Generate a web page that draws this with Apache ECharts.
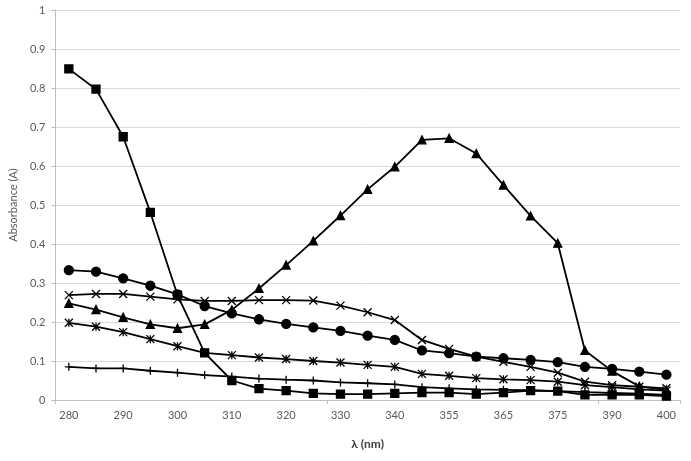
<!DOCTYPE html>
<html>
<head>
<meta charset="utf-8">
<title>Absorbance spectra</title>
<script src="https://cdn.jsdelivr.net/npm/echarts@6/dist/echarts.min.js"></script>
<style>
    html, body { margin: 0; padding: 0; background: #ffffff; }
    #chart { width: 691px; height: 461px; }
</style>
</head>
<body>
<div id="chart"></div>
<script>
// Wavelength categories (nm)
var wavelengths = ['280', '285', '290', '295', '300', '305', '310', '315', '320', '325', '330', '335', '340',
    '345', '355', '360', '365', '370', '375', '380', '390', '395', '400'];

// Absorbance values, one array per curve
var squares = [0.849, 0.797, 0.675, 0.481, 0.269, 0.121, 0.050, 0.029, 0.024, 0.017, 0.015, 0.015, 0.017,
    0.019, 0.019, 0.015, 0.019, 0.024, 0.023, 0.013, 0.013, 0.013, 0.010];
var triangles = [0.248, 0.232, 0.212, 0.194, 0.184, 0.194, 0.231, 0.286, 0.346, 0.408, 0.473, 0.540, 0.598,
    0.667, 0.671, 0.632, 0.551, 0.472, 0.402, 0.127, 0.074, 0.035, 0.026];
var circles = [0.333, 0.329, 0.312, 0.293, 0.271, 0.241, 0.222, 0.207, 0.195, 0.186, 0.177, 0.165, 0.154,
    0.127, 0.120, 0.111, 0.107, 0.103, 0.097, 0.085, 0.080, 0.073, 0.065];
var crosses = [0.269, 0.272, 0.272, 0.265, 0.258, 0.254, 0.254, 0.256, 0.256, 0.255, 0.242, 0.225, 0.205,
    0.154, 0.131, 0.111, 0.098, 0.085, 0.070, 0.047, 0.038, 0.034, 0.030];
var stars = [0.198, 0.188, 0.174, 0.156, 0.138, 0.121, 0.115, 0.109, 0.105, 0.100, 0.096, 0.090, 0.085,
    0.067, 0.062, 0.056, 0.053, 0.051, 0.047, 0.038, 0.033, 0.027, 0.024];
var pluses = [0.085, 0.081, 0.081, 0.075, 0.070, 0.064, 0.060, 0.055, 0.052, 0.050, 0.045, 0.043, 0.040,
    0.033, 0.030, 0.027, 0.026, 0.025, 0.023, 0.020, 0.018, 0.016, 0.013];

document.addEventListener('DOMContentLoaded', function() {
    var chart = echarts.init(document.getElementById('chart'), null, { renderer: 'canvas' });

    var crossPath = 'path://M0,0L10,10M10,0L0,10';
    var starPath = 'path://M0,0L10,10M10,0L0,10M5,0L5,10';
    var plusPath = 'path://M5,0L5,10M0,5L10,5';

    function curve(data, symbol, size) {
        return {
            type: 'line',
            data: data,
            symbol: symbol,
            symbolSize: size,
            lineStyle: { color: '#000', width: 1.8 },
            itemStyle: { color: '#000', borderColor: '#000', borderWidth: 1.3 },
            emphasis: { disabled: true },
            z: 3
        };
    }

    var option = {
        backgroundColor: '#ffffff',
        animation: false,
        textStyle: { fontFamily: 'Lato, "Open Sans", sans-serif' },
        grid: { left: 36, right: 11, top: 10, bottom: 61 },
        xAxis: {
            type: 'category',
            data: wavelengths,
            boundaryGap: true,
            name: 'λ (nm)',
            nameLocation: 'middle',
            nameGap: 38,
            nameTextStyle: { fontSize: 12, color: '#404040', fontWeight: 'bold' },
            axisLine: { lineStyle: { color: '#bfbfbf' } },
            axisTick: { show: true, interval: 9, length: 4, lineStyle: { color: '#bfbfbf' } },
            axisLabel: { interval: 1, color: '#595959', fontSize: 11, margin: 10 },
            splitLine: { show: false }
        },
        yAxis: {
            type: 'value',
            min: 0,
            max: 1,
            interval: 0.1,
            name: 'Absorbance (A)',
            nameLocation: 'middle',
            nameGap: 31,
            nameTextStyle: { fontSize: 11, color: '#595959' },
            axisLine: { show: true, lineStyle: { color: '#bfbfbf' } },
            axisTick: { show: true, length: 4, lineStyle: { color: '#bfbfbf' } },
            axisLabel: { color: '#595959', fontSize: 11, margin: 10 },
            splitLine: { lineStyle: { color: '#d9d9d9', width: 1 } }
        },
        series: [
            curve(pluses, plusPath, 8),
            curve(stars, starPath, 8),
            curve(crosses, crossPath, 8),
            curve(circles, 'circle', 9),
            curve(triangles, 'triangle', 8),
            curve(squares, 'rect', 8)
        ]
    };
    chart.setOption(option);
});
</script>
</body>
</html>
